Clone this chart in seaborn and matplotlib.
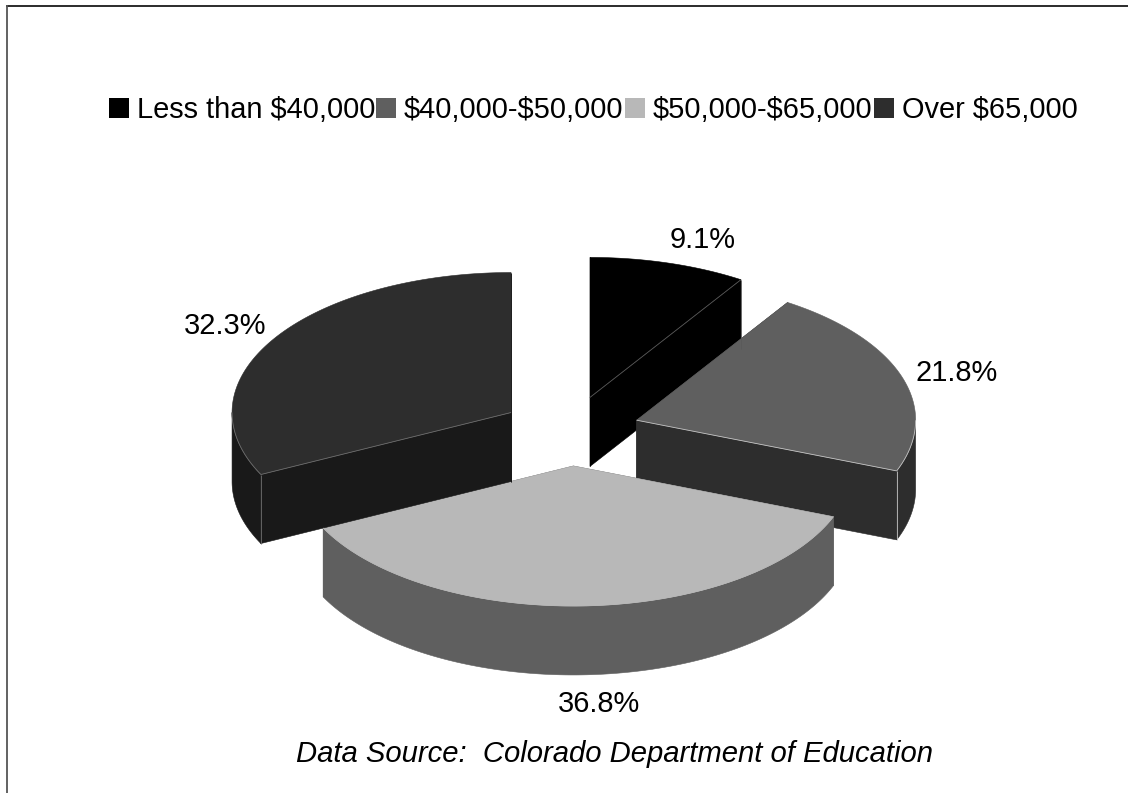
import numpy as np
import matplotlib
matplotlib.use("Agg")
import matplotlib.pyplot as plt
from matplotlib.patches import Polygon, Patch
import seaborn as sns

# Teacher salary bands and their shares of the total, in percent
categories = ["Less than $40,000", "$40,000-$50,000", "$50,000-$65,000", "Over $65,000"]
shares = [9.1, 21.8, 36.8, 32.3]

top_colors = ["#000000", "#5f5f5f", "#b8b8b8", "#2d2d2d"]
wall_colors = ["#000000", "#2d2d2d", "#5f5f5f", "#191919"]
hairlines = ["#5a5a5a", "#c4c4c4", "#b8b8b8", "#6e6e6e"]

source_note = "Data Source:  Colorado Department of Education"

# Layout of the tilted pie, in figure pixels
CX, CY = 570.3, 431.0
RX, RY = 279.0, 140.0
DEPTH = 69.0
EXPLODE = 0.25
FONT_PX = 29.0

sns.set_theme(style="white")
plt.rcParams["font.family"] = ["Liberation Sans", "DejaVu Sans"]
plt.rcParams["text.parse_math"] = False
font_pt = FONT_PX * 72 / 100
palette = sns.color_palette(top_colors)

fig = plt.figure(figsize=(11.28, 7.93), dpi=100, facecolor="white")
ax = fig.add_axes([0, 0, 1, 1])
ax.set_xlim(0, 1128)
ax.set_ylim(793, 0)
ax.axis("off")


def rim(cx, cy, angles):
    """Points on the ellipse; angles run clockwise from twelve o'clock."""
    return np.column_stack([cx + RX * np.sin(angles), cy - RY * np.cos(angles)])


fractions = np.array(shares) / sum(shares)
stops = np.concatenate([[0], np.cumsum(fractions)]) * 2 * np.pi
down = np.array([0, DEPTH])

# Painted from back to front so that nearer slices overlap the earlier ones
for i, (start, end) in enumerate(zip(stops[:-1], stops[1:])):
    mid = (start + end) / 2
    cx = CX + EXPLODE * RX * np.sin(mid)
    cy = CY - EXPLODE * RY * np.cos(mid)
    apex = np.array([cx, cy])
    arc = rim(cx, cy, np.linspace(start, end, 240))
    wall_style = dict(facecolor=wall_colors[i], edgecolor=wall_colors[i], linewidth=0.4)

    # Cut faces on both radial edges
    for corner in (arc[0], arc[-1]):
        face = np.array([apex, corner, corner + down, apex + down])
        ax.add_patch(Polygon(face, **wall_style))

    # Curved outer wall, only where the rim faces the viewer
    lo, hi = max(start, np.pi / 2), min(end, 3 * np.pi / 2)
    front = None
    if hi > lo:
        front = rim(cx, cy, np.linspace(lo, hi, 240))
        wall = np.vstack([front, (front + down)[::-1]])
        ax.add_patch(Polygon(wall, **wall_style))

    ax.add_patch(Polygon(np.vstack([apex, arc]), facecolor=palette[i],
                         edgecolor=palette[i], linewidth=0.4))

    # Fine light seams where the top meets a visible wall
    seam = dict(color=hairlines[i], lw=0.6, solid_capstyle="butt")
    if front is not None:
        ax.plot(front[:, 0], front[:, 1], **seam)
    visible = []
    if start >= np.pi:
        visible.append(arc[0])
    if end <= np.pi:
        visible.append(arc[-1])
    for corner in visible:
        ax.plot([apex[0], corner[0]], [apex[1], corner[1]], **seam)
        ax.plot([corner[0], corner[0]], [corner[1], corner[1] + DEPTH], **seam)

# Percentage labels around the pie, placed by their baselines
label_xy = [(703, 248), (957, 381), (599, 712), (225, 334)]
for share, (x, y) in zip(shares, label_xy):
    ax.text(x, y, f"{share:.1f}%", ha="center", va="baseline",
            fontsize=font_pt, color="black")

handles = [Patch(facecolor=c, edgecolor="none", label=n)
           for c, n in zip(palette, categories)]
ax.legend(handles=handles, loc="center", bbox_to_anchor=(593 / 1128, 1 - 110 / 793),
          ncol=4, frameon=False, fontsize=font_pt, labelcolor="black",
          handlelength=20 / FONT_PX, handleheight=20 / FONT_PX,
          handletextpad=8 / FONT_PX, columnspacing=1.2 / FONT_PX,
          borderpad=0, borderaxespad=0, labelspacing=0)

ax.text(615, 762, source_note, ha="center", va="baseline",
        fontsize=font_pt * 1.01, style="italic", color="black")

# Chart frame: only the top and left rules are visible
ax.plot([6, 1128], [5.5, 5.5], color="#1a1a1a", lw=1.3, solid_capstyle="butt")
ax.plot([6.5, 6.5], [5, 793], color="#555555", lw=1.3, solid_capstyle="butt")

fig.savefig("out.png", dpi=100, facecolor="white")
